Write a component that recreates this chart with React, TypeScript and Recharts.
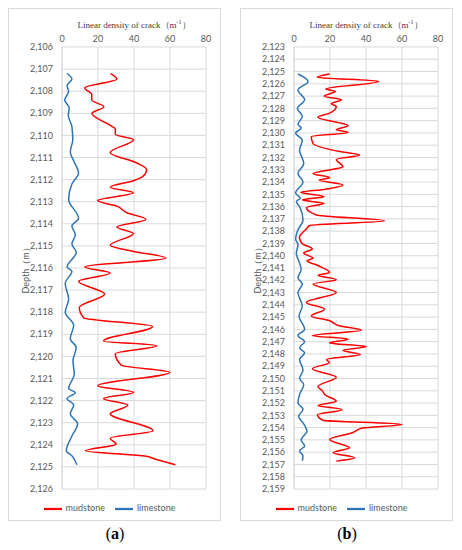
import React from 'react';
import { LineChart, Line, XAxis, YAxis, CartesianGrid, Legend } from 'recharts';

// ---- panel (a) ----
const depthTicksA = [2106, 2107, 2108, 2109, 2110, 2111, 2112, 2113, 2114, 2115, 2116, 2117, 2118, 2119, 2120, 2121, 2122, 2123, 2124, 2125, 2126];
const mudDepthA = [2107.2, 2107.45, 2107.85, 2108.15, 2108.4, 2108.7, 2109.0, 2109.55, 2109.7, 2109.95, 2110.2, 2110.77, 2111.25, 2111.55, 2111.85, 2112.05, 2112.35, 2112.6, 2112.95, 2113.2, 2113.5, 2113.8, 2114.14, 2114.44, 2114.97, 2115.25, 2115.55, 2115.95, 2116.23, 2116.6, 2117.18, 2117.79, 2118.25, 2118.65, 2119.3, 2119.52, 2119.88, 2120.4, 2120.72, 2121.33, 2121.63, 2121.9, 2122.2, 2122.6, 2123.36, 2123.7, 2123.97, 2124.27, 2124.5, 2124.68, 2124.9];
const mudA = [27, 30.5, 12.6, 16.5, 16.5, 23.3, 16.6, 26.8, 29.6, 29.6, 39.7, 26.8, 41.6, 47, 45, 39.7, 26.8, 39.7, 19.8, 30.5, 36, 46.6, 30.5, 39.7, 26.8, 40, 57.7, 12.6, 26.8, 9.2, 23.7, 9.6, 12, 50.3, 23.1, 52.7, 29.6, 33, 60, 19.8, 39.7, 23.1, 36.6, 26.8, 50.5, 26.8, 30, 13, 45, 53, 63];
const limeDepthA = [2107.2, 2107.45, 2107.75, 2108.0, 2108.4, 2108.75, 2109.1, 2109.6, 2110.2, 2110.75, 2111.2, 2111.7, 2112.2, 2112.9, 2113.75, 2114.1, 2114.5, 2114.9, 2115.3, 2115.95, 2116.15, 2116.7, 2117.4, 2118.0, 2118.6, 2119.2, 2119.6, 2120.2, 2120.8, 2121.45, 2121.65, 2121.9, 2122.2, 2122.6, 2123.05, 2123.6, 2124.27, 2124.5, 2124.9];
const limeA = [2.8, 5.5, 2.8, 3.7, 1.5, 4, 3.5, 5.5, 6, 4.6, 6.8, 9.2, 5.5, 3.7, 9.2, 5.5, 7.4, 5.5, 7.9, 2.8, 5.5, 1.8, 3.7, 1.8, 6.5, 4.6, 7.9, 6.1, 6.8, 3.7, 7.4, 2.8, 6.5, 4.6, 8.7, 5.5, 2.4, 5.5, 8.3];

// ---- panel (b) ----
const depthTicksB = [2123, 2124, 2125, 2126, 2127, 2128, 2129, 2130, 2131, 2132, 2133, 2134, 2135, 2136, 2137, 2138, 2139, 2140, 2141, 2142, 2143, 2144, 2145, 2146, 2147, 2148, 2149, 2150, 2151, 2152, 2153, 2154, 2155, 2156, 2157, 2158, 2159];
const mudDepthB = [2125.2, 2125.47, 2125.8, 2126.42, 2126.61, 2127.02, 2127.29, 2127.62, 2127.84, 2128.38, 2128.73, 2129.41, 2129.74, 2129.96, 2130.3, 2130.86, 2131.54, 2131.8, 2132.16, 2132.76, 2133.3, 2133.65, 2133.84, 2134.24, 2134.6, 2134.84, 2135.19, 2135.46, 2135.73, 2136.08, 2136.68, 2137.16, 2137.54, 2137.8, 2138.5, 2139.0, 2139.46, 2139.78, 2140.2, 2140.4, 2140.8, 2141.36, 2141.6, 2141.96, 2142.3, 2143.0, 2143.8, 2144.36, 2144.9, 2145.3, 2145.7, 2146.08, 2146.5, 2146.8, 2147.1, 2147.4, 2147.7, 2148.05, 2148.46, 2148.7, 2149.2, 2149.9, 2150.65, 2151.05, 2151.3, 2151.86, 2152.2, 2152.54, 2152.95, 2153.4, 2153.75, 2154.03, 2154.4, 2154.97, 2155.65, 2156.05, 2156.46, 2156.73];
const mudB = [19.8, 12.8, 47, 17.6, 23.1, 16.7, 26.3, 20.7, 23.5, 19.8, 13.3, 30, 23.5, 30, 9.6, 10.6, 26.3, 36.5, 23.5, 27.2, 10.6, 19.8, 13.9, 27.2, 16.7, 3.7, 16.7, 4.6, 16.7, 6.9, 12.4, 50.4, 8.7, 7, 3, 4.5, 10.2, 5.4, 10.6, 7.2, 13.3, 19.8, 13.3, 23.5, 10.6, 23.5, 6.9, 17, 9.6, 19.8, 25, 37.4, 10.2, 30, 19.8, 40.2, 27.2, 36.9, 18, 19.8, 10.2, 23.5, 13.3, 16, 17, 23.5, 13.3, 26.7, 13, 16, 60, 38, 32.8, 19.8, 30.9, 21.7, 33.7, 23.5];
const limeDepthB = [2125.2, 2125.8, 2126.5, 2127.3, 2128.0, 2128.65, 2129.3, 2129.6, 2130.0, 2130.6, 2131.4, 2132.5, 2133.3, 2134.0, 2134.9, 2135.3, 2135.6, 2136.0, 2137.1, 2137.9, 2138.65, 2139.1, 2139.8, 2140.6, 2141.1, 2141.8, 2142.3, 2143.0, 2144.1, 2144.9, 2146.0, 2146.5, 2147.0, 2147.5, 2147.9, 2148.45, 2149.3, 2150.0, 2150.5, 2151.3, 2152.0, 2152.5, 2153.1, 2153.6, 2154.3, 2155.0, 2155.5, 2155.9, 2156.3, 2156.7];
const limeB = [2.2, 7.8, 2.2, 5.9, 1.9, 4.6, 2.2, 4, 0.9, 4.6, 3.1, 5.4, 2.2, 5, 0.9, 3.5, 1.3, 3.1, 5, 2.2, 0.9, 2.2, 1.3, 3.1, 4, 2.2, 4.6, 2.2, 4.6, 2.8, 5.9, 2.2, 5.9, 3.1, 5.9, 3.1, 5, 3.1, 5.4, 3.1, 2.2, 5, 2.6, 5, 7.2, 4, 5.9, 3.1, 5, 4.6];

const densityTicks = [0, 20, 40, 60, 80];
const seriesOrder = ['mudstone', 'limestone'];

const RED = '#ff0000';
const BLUE = '#2e75b6';
const GRID = '#d9d9d9';
const TEXT = '#595959';
const SANS = 'Lato, "Liberation Sans", sans-serif';
const SERIF = '"Liberation Serif", "Times New Roman", serif';

const toRows = (depths: number[], vals: number[]) =>
  depths.map((d, i) => ({ depth: d, v: vals[i] }));

interface PanelProps {
  left: number;
  letter: string;
  ticks: number[];
  mudDepth: number[];
  mud: number[];
  limeDepth: number[];
  lime: number[];
}

function Panel({ left, letter, ticks, mudDepth, mud, limeDepth, lime }: PanelProps) {
  const mudRows = toRows(mudDepth, mud);
  const limeRows = toRows(limeDepth, lime);
  return (
    <>
      <div
        style={{
          position: 'absolute', left, top: 8, width: 213, height: 513,
          border: `1px solid ${GRID}`, boxSizing: 'border-box',
        }}
      >
        {/* title over the top axis */}
        <div
          style={{
            position: 'absolute', left: 53, top: 10, width: 144, textAlign: 'center',
            fontFamily: SERIF, fontSize: 9, color: '#404040', whiteSpace: 'nowrap',
          }}
        >
          Linear density of crack（m<sup style={{ fontSize: 6 }}>-1</sup>）
        </div>
        {/* rotated depth label */}
        <div
          style={{
            position: 'absolute', left: -33, top: 253, width: 100, textAlign: 'center',
            transform: 'rotate(-90deg)', fontFamily: SANS, fontSize: 9, color: TEXT,
          }}
        >
          Depth（m）
        </div>
        <div style={{ position: 'absolute', left: 0, top: 0 }}>
          <LineChart
            layout="vertical"
            width={211}
            height={511}
            margin={{ top: 24, right: 14, left: 0, bottom: 15 }}
          >
            <CartesianGrid stroke={GRID} />
            <XAxis
              type="number"
              orientation="top"
              domain={[0, 80]}
              ticks={densityTicks}
              height={14}
              axisLine={false}
              tickLine={false}
              tickSize={0}
              tickMargin={5}
              tick={{ fill: TEXT, fontSize: 9, fontFamily: SANS }}
            />
            <YAxis
              type="number"
              dataKey="depth"
              domain={[ticks[0], ticks[ticks.length - 1]]}
              ticks={ticks}
              interval={0}
              width={53}
              axisLine={{ stroke: GRID }}
              tickLine={false}
              tickSize={0}
              tickMargin={9}
              tickFormatter={(v: number) => v.toLocaleString('en-US')}
              tick={{ fill: TEXT, fontSize: 9, fontFamily: SANS }}
            />
            <Legend
              verticalAlign="bottom"
              iconType="plainline"
              iconSize={18}
              itemSorter={(item: any) => seriesOrder.indexOf(item.value)}
              wrapperStyle={{ left: 0, width: 211, bottom: 4, height: 16, fontSize: 9, fontFamily: SANS }}
              formatter={(value: string) => <span style={{ color: TEXT }}>{value}</span>}
            />
            <Line
              data={mudRows}
              dataKey="v"
              name="mudstone"
              type="monotone"
              stroke={RED}
              strokeWidth={1.5}
              dot={false}
              isAnimationActive={false}
            />
            <Line
              data={limeRows}
              dataKey="v"
              name="limestone"
              type="monotone"
              stroke={BLUE}
              strokeWidth={1.5}
              dot={false}
              isAnimationActive={false}
            />
          </LineChart>
        </div>
      </div>
      <div
        style={{
          position: 'absolute', left: left + 57, top: 525, width: 100, textAlign: 'center',
          fontFamily: SERIF, fontSize: 16, color: '#000',
        }}
      >
        (<b>{letter}</b>)
      </div>
    </>
  );
}

export default function App() {
  return (
    <div style={{ position: 'absolute', left: 0, top: 0, width: 462, height: 550, background: '#fff' }}>
      <Panel left={8} letter="a" ticks={depthTicksA} mudDepth={mudDepthA} mud={mudA} limeDepth={limeDepthA} lime={limeA} />
      <Panel left={240} letter="b" ticks={depthTicksB} mudDepth={mudDepthB} mud={mudB} limeDepth={limeDepthB} lime={limeB} />
    </div>
  );
}
